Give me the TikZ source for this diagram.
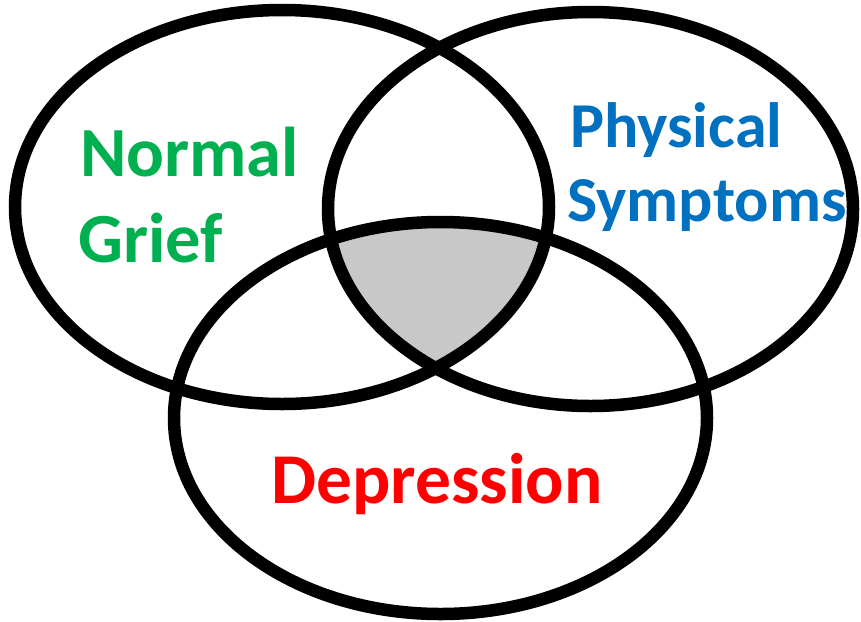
\documentclass[tikz,border=0pt]{standalone}
\usepackage{fontspec}
\setmainfont{Carlito}
\definecolor{ngreen}{HTML}{00B050}
\definecolor{pblue}{HTML}{0070C0}
\definecolor{dred}{HTML}{FF0000}
\definecolor{core}{RGB}{200,200,200}
\tikzset{
  ring/.style={draw=black, line width=12.5pt},
  lbl/.style={anchor=base west, inner sep=0pt, font=\bfseries}
}
\begin{document}
\begin{tikzpicture}[x=1pt,y=-1pt]
\useasboundingbox[fill=white] (0,0) rectangle (861,621);
\def\ellA{(282,207) ellipse [x radius=267pt, y radius=197pt]}
\def\ellB{(590.5,209) ellipse [x radius=262.5pt, y radius=197pt]}
\def\ellC{(440.5,418) ellipse [x radius=266.5pt, y radius=196pt]}
\begin{scope}
  \clip \ellA;
  \clip \ellB;
  \fill[core] \ellC;
\end{scope}
\draw[ring] \ellA;
\draw[ring] \ellB;
\draw[ring] \ellC;
\node[lbl, text=ngreen, font=\bfseries\fontsize{70.5pt}{85pt}\selectfont] (ng1) at (80,176) {Normal};
\node[lbl, text=ngreen, font=\bfseries\fontsize{70.5pt}{85pt}\selectfont] (ng2) at (78,262) {Grief};
\node[lbl, text=pblue, font=\bfseries\fontsize{64pt}{77pt}\selectfont] (ps1) at (570,147) {Physical};
\node[lbl, text=pblue, font=\bfseries\fontsize{64pt}{77pt}\selectfont] (ps2) at (567,221) {Symptoms};
\node[lbl, text=dred, font=\bfseries\fontsize{71.5pt}{86pt}\selectfont] (dp) at (271,503) {Depression};
\end{tikzpicture}
\end{document}
